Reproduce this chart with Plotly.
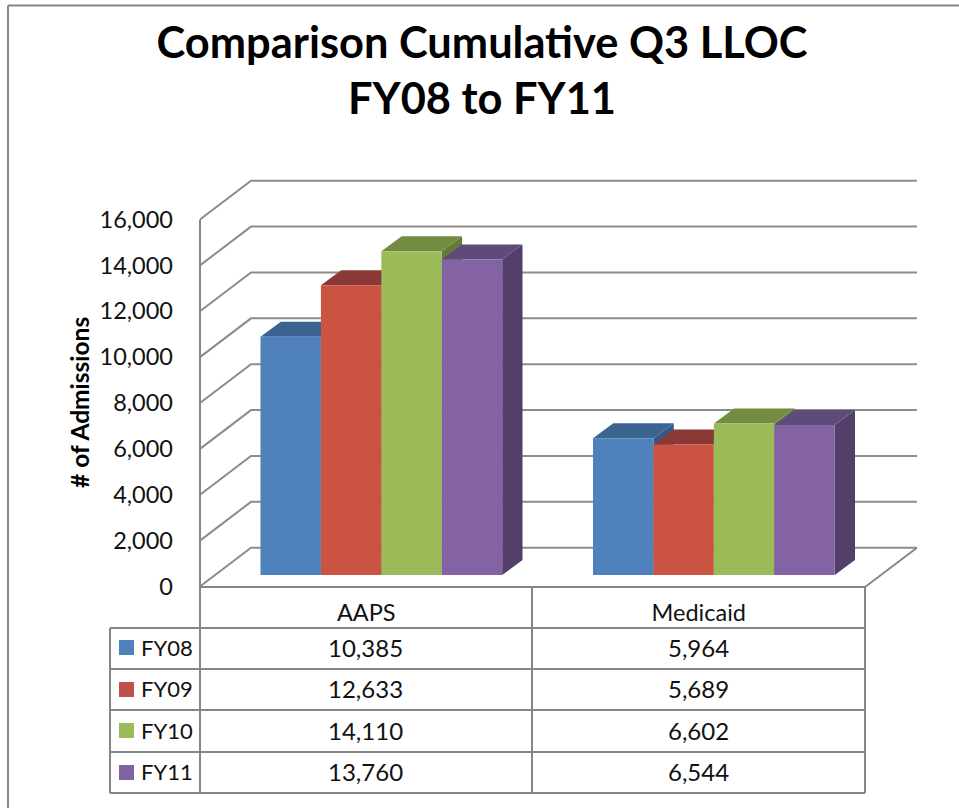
import plotly.graph_objects as go

# ---- data ----
categories = ["AAPS", "Medicaid"]
series_names = ["FY08", "FY09", "FY10", "FY11"]
fy08 = [10385, 5964]
fy09 = [12633, 5689]
fy10 = [14110, 6602]
fy11 = [13760, 6544]
y_ticks = [0, 2000, 4000, 6000, 8000, 10000, 12000, 14000, 16000]
title_lines = ["Comparison Cumulative Q3 LLOC", "FY08 to FY11"]
y_title = "# of Admissions"

# ---- style ----
front_colors = ["#4F81BD", "#CA5341", "#9BBB59", "#8463A5"]
key_colors = ["#4F81BD", "#C0504D", "#9BBB59", "#8064A2"]
top_colors = ["#3B6491", "#8B3936", "#748C42", "#5F4B79"]
side_colors = ["#36588A", "#86362F", "#657A3A", "#533F69"]
grid_color = "#8C8C8C"
table_color = "#868686"
font = "Lato"
W, H = 959, 808
L, R, T, B = 200, 917, 170, 590     # plot rectangle in window pixels
CAT = 332.5                         # category width
K = 367 / 16000                     # pixels per unit
Y0 = 586.5                          # pixel of value 0 on the front plane
BACK_DX, BACK_DY = 51, 38.8         # floor depth
BAR_DX, BAR_DY = 15.1, 11.5         # bar front offset from the front plane
TOP_DX, TOP_DY = 20.3, 15           # bar depth
BARGAP = 0.273
N = len(series_names)
all_values = [fy08, fy09, fy10, fy11]


def xu(px):
    return (px - L) / CAT


def yv(px, y0=Y0):
    return (y0 - px) / K


def xp(px):
    return (px - L) / (R - L)


def yp(px):
    return (B - px) / (B - T)


fig = go.Figure()

# walls: gridlines wrap from the front plane to the back wall
x_end = xu(R)
for v in y_ticks:
    fig.add_trace(go.Scatter(
        x=[0, BACK_DX / CAT, x_end],
        y=[v, v + BACK_DY / K, v + BACK_DY / K],
        mode="lines", line=dict(color=grid_color, width=2), hoverinfo="skip", showlegend=False))

# top and side faces, painted from left to right
bar_w = (1 - BARGAP) / N
for c in range(len(categories)):
    for i in range(N):
        v = all_values[i][c] + BAR_DY / K
        x0 = BAR_DX / CAT + c + BARGAP / 2 + i * bar_w
        x1 = x0 + bar_w
        ddx, ddy = TOP_DX / CAT, TOP_DY / K
        base = BAR_DY / K
        fig.add_trace(go.Scatter(
            x=[x1, x1 + ddx, x1 + ddx, x1, x1],
            y=[base, base + ddy, v + ddy, v, base],
            mode="lines", fill="toself", fillcolor=side_colors[i],
            line=dict(width=0, color=side_colors[i]), hoverinfo="skip", showlegend=False))
        fig.add_trace(go.Scatter(
            x=[x0, x0 + ddx, x1 + ddx, x1, x0],
            y=[v, v + ddy, v + ddy, v, v],
            mode="lines", fill="toself", fillcolor=top_colors[i],
            line=dict(width=0, color=top_colors[i]), hoverinfo="skip", showlegend=False))

# bar fronts on an overlaid pair of axes, shifted to the bars' depth
for i in range(N):
    fig.add_trace(go.Bar(
        x=categories, y=all_values[i], name=series_names[i], xaxis="x2", yaxis="y2",
        marker=dict(color=front_colors[i], line=dict(width=0)), showlegend=False))

# table grid, chart border and floor edges
lines = [
    (8, 5.5, 959, 5.5), (8, 5.5, 8, 808),
    (L, Y0 - 367, L, 793), (532, 587, 532, 793), (865, 587, 865, 793),
    (110, 628, 110, 793), (L, 587, 865, 587), (865, 587, 917, 547.7),
]
for row_y in [628, 669, 710, 752, 793]:
    lines.append((110, row_y, 865, row_y))
shapes = [dict(type="line", xref="paper", yref="paper",
               x0=xp(a), y0=yp(b), x1=xp(c), y1=yp(d),
               line=dict(color=table_color, width=2)) for a, b, c, d in lines]

annotations = [dict(text="<b>" + y_title + "</b>", xref="paper", yref="paper",
                    x=xp(79), y=yp(403), textangle=-90, xanchor="center", yanchor="middle",
                    showarrow=False, font=dict(family=font, size=24.5, color="black"))]
key_centres = [647.5, 689.5, 730.5, 772.5]
text_centres = [647, 688, 730, 771]
col_centres = [365, 698]
for i, name in enumerate(series_names):
    cy = key_centres[i]
    ty = text_centres[i]
    shapes.append(dict(type="rect", xref="paper", yref="paper",
                       x0=xp(119), x1=xp(134), y0=yp(cy - 7.5), y1=yp(cy + 7.5),
                       fillcolor=key_colors[i], line=dict(width=0)))
    annotations.append(dict(text=name, xref="paper", yref="paper", x=xp(139), y=yp(ty),
                            xanchor="left", yanchor="middle", showarrow=False,
                            font=dict(family=font, size=22, color="#111111")))
    for c in range(len(categories)):
        annotations.append(dict(text=f"{all_values[i][c]:,}", xref="paper", yref="paper",
                                x=xp(col_centres[c]), y=yp(ty),
                                xanchor="center", yanchor="middle", showarrow=False,
                                font=dict(family=font, size=24, color="#111111")))

fig.update_layout(
    width=W, height=H, autosize=False,
    margin=dict(l=L, r=W - R, t=T, b=H - B, pad=0),
    paper_bgcolor="white", plot_bgcolor="rgba(0,0,0,0)",
    showlegend=False, barmode="group", bargap=BARGAP, bargroupgap=0,
    title=dict(text="<b>" + "<br>".join(title_lines) + "</b>",
               x=482 / W, xanchor="center", xref="container",
               y=1 - 58 / H, yanchor="top", yref="container",
               font=dict(family=font, size=43.4, color="black")),
    xaxis=dict(range=[0, xu(R)], tickmode="array",
               tickvals=[c + 0.5 for c in range(len(categories))], ticktext=categories,
               showgrid=False, zeroline=False, showline=False, ticks="",
               ticklabelstandoff=6, tickfont=dict(family=font, size=23.5, color="#111111")),
    yaxis=dict(range=[yv(B), yv(T)], tickmode="array", tickvals=y_ticks,
               ticktext=[f"{v:,}" for v in y_ticks],
               showgrid=False, zeroline=False, showline=False, ticks="",
               ticklabelstandoff=26, tickfont=dict(family=font, size=23.5, color="#111111")),
    xaxis2=dict(overlaying="x", visible=False, type="category", categoryorder="array",
                categoryarray=categories,
                range=[-0.5 - BAR_DX / CAT, -0.5 - BAR_DX / CAT + (R - L) / CAT]),
    yaxis2=dict(overlaying="y", visible=False, range=[yv(B, 575), yv(T, 575)]),
    shapes=shapes, annotations=annotations,
)
# the page's default body margin would shift the whole figure by 8 px
fig.write_html("out.html", config={"displayModeBar": False},
               post_script="document.body.style.margin='0';")
